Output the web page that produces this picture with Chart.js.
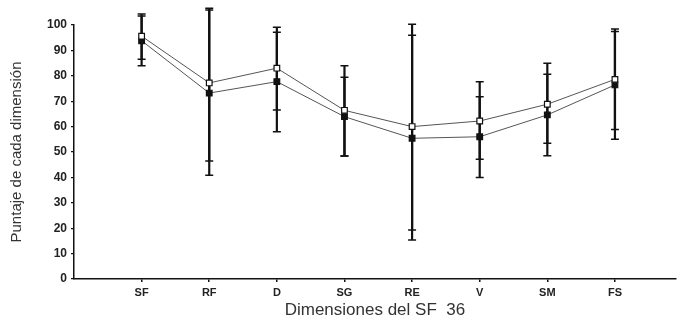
<!DOCTYPE html>
<html>
<head>
<meta charset="utf-8">
<script src="https://cdn.jsdelivr.net/npm/chart.js@4.4.0/dist/chart.umd.min.js"></script>
<style>
  html, body { margin: 0; padding: 0; background: #fff; }
  #wrap { width: 681px; height: 321px; }
</style>
</head>
<body>
<div id="wrap"><canvas id="chart" width="681" height="321"></canvas></div>
<script>
// Dimensiones del SF-36
const categories = ['SF', 'RF', 'D', 'SG', 'RE', 'V', 'SM', 'FS'];
const yTicks = [0, 10, 20, 30, 40, 50, 60, 70, 80, 90, 100];

// open squares (upper series)
const openMeans = [95.6, 77.2, 83, 66.4, 60, 62.2, 68.8, 78.6];
const openLow   = [86.5, 46.5, 66.5, 48.4, 19.3, 47.1, 53.4, 58.9];
const openHigh  = [104.3, 106.6, 99.1, 84, 100.3, 77.7, 84.9, 98.4];

// filled squares (lower series)
const filledMeans = [93.8, 73.2, 77.7, 63.9, 55.4, 56, 64.6, 76.4];
const filledLow   = [84, 40.8, 58, 48.4, 15.4, 40, 48.5, 55];
const filledHigh  = [103.5, 105.9, 97.1, 79.4, 96, 71.8, 80.6, 97.4];

const toPoints = (vals) => vals.map((v, i) => ({ x: i, y: v }));

// vertical error bars, drawn under the lines and markers
const errorBars = {
  id: 'errorBars',
  beforeDatasetsDraw(chart) {
    const ctx = chart.ctx;
    const xs = chart.scales.x;
    const ys = chart.scales.y;
    const sets = [[openLow, openHigh], [filledLow, filledHigh]];
    ctx.save();
    ctx.strokeStyle = '#111';
    ctx.lineCap = 'butt';
    sets.forEach(([lo, hi]) => {
      categories.forEach((c, i) => {
        const x = xs.getPixelForValue(i);
        const y1 = ys.getPixelForValue(lo[i]);
        const y2 = ys.getPixelForValue(hi[i]);
        ctx.lineWidth = 2.2;
        ctx.beginPath();
        ctx.moveTo(x, y1);
        ctx.lineTo(x, y2);
        ctx.stroke();
        ctx.lineWidth = 1.5;
        ctx.beginPath();
        ctx.moveTo(x - 4, y1); ctx.lineTo(x + 4, y1);
        ctx.moveTo(x - 4, y2); ctx.lineTo(x + 4, y2);
        ctx.stroke();
      });
    });
    ctx.restore();
  }
};

new Chart(document.getElementById('chart'), {
  type: 'line',
  data: {
    datasets: [
      {
        label: 'open',
        data: toPoints(openMeans),
        borderColor: '#555',
        borderWidth: 1,
        pointStyle: 'rect',
        pointRadius: 4,
        pointBackgroundColor: '#fff',
        pointBorderColor: '#111',
        pointBorderWidth: 1.2,
        tension: 0
      },
      {
        label: 'filled',
        data: toPoints(filledMeans),
        borderColor: '#555',
        borderWidth: 1,
        pointStyle: 'rect',
        pointRadius: 4,
        pointBackgroundColor: '#111',
        pointBorderColor: '#111',
        pointBorderWidth: 1.2,
        tension: 0
      }
    ]
  },
  options: {
    responsive: false,
    animation: false,
    layout: { padding: { top: 25, right: 1, left: 0, bottom: 0 } },
    plugins: {
      legend: { display: false },
      tooltip: { enabled: false }
    },
    scales: {
      x: {
        type: 'linear',
        min: -1,
        max: 7.9,
        afterBuildTicks: (scale) => {
          scale.ticks = categories.map((c, i) => ({ value: i }));
        },
        afterFit: (scale) => { scale.height = 42; },
        border: { display: true, color: '#111', width: 1.5 },
        grid: { drawOnChartArea: false, drawTicks: true, tickLength: 3, color: '#111', lineWidth: 1.5 },
        ticks: {
          color: '#222',
          padding: 4,
          maxRotation: 0,
          autoSkip: false,
          font: { family: 'Liberation Sans, Arial', size: 11, weight: 'bold' },
          callback: (v) => categories[v] ?? ''
        },
        title: {
          display: true,
          text: 'Dimensiones del SF  36',
          color: '#333',
          padding: 0,
          font: { family: 'Liberation Sans, Arial', size: 17 }
        }
      },
      y: {
        min: 0,
        max: 100,
        afterBuildTicks: (scale) => {
          scale.ticks = yTicks.map(v => ({ value: v }));
        },
        afterFit: (scale) => { scale.width = 74; },
        border: { display: true, color: '#111', width: 1.5 },
        grid: { drawOnChartArea: false, drawTicks: true, tickLength: 3, color: '#111', lineWidth: 1.2 },
        ticks: {
          color: '#222',
          padding: 4,
          font: { family: 'Liberation Sans, Arial', size: 12, weight: 'bold' }
        },
        title: {
          display: true,
          text: 'Puntaje de cada dimensión',
          color: '#333',
          padding: { top: 8, bottom: 0 },
          font: { family: 'Liberation Sans, Arial', size: 15 }
        }
      }
    }
  },
  plugins: [errorBars]
});
</script>
</body>
</html>
